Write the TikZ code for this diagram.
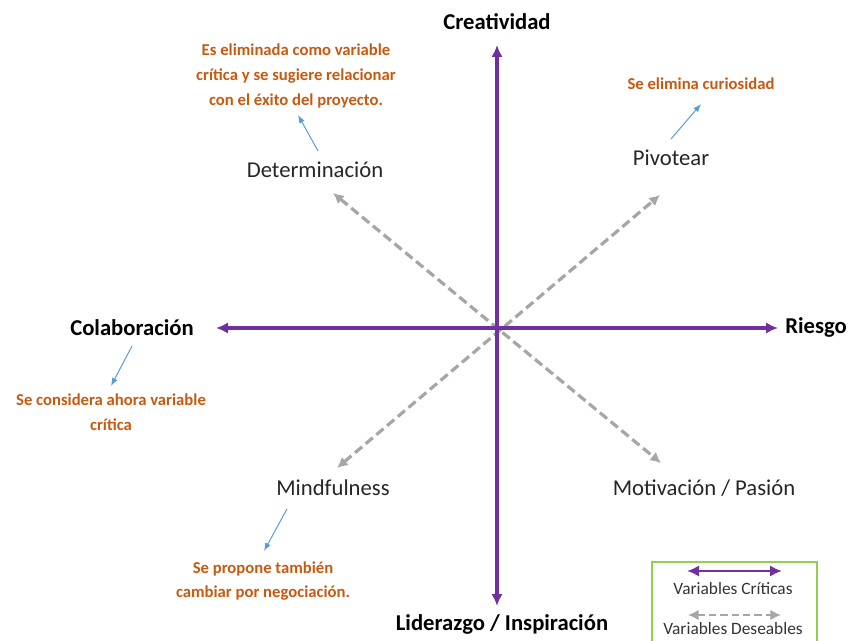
\documentclass[tikz,border=0pt]{standalone}
\usepackage{fontspec}
\setmainfont{Carlito}
\usetikzlibrary{arrows.meta}

\definecolor{critico}{RGB}{112,48,160}
\definecolor{deseable}{RGB}{166,166,166}
\definecolor{nota}{RGB}{197,90,17}
\definecolor{flecha}{RGB}{91,155,213}
\definecolor{marco}{RGB}{146,208,80}

\tikzset{
  critica/.style={draw=critico, line width=2.4pt, {Latex[length=9pt,width=8.5pt]}-{Latex[length=9pt,width=8.5pt]}},
  deseada/.style={draw=deseable, line width=2.4pt, dash pattern=on 7pt off 3.5pt, {Latex[length=8pt,width=8pt]}-{Latex[length=8pt,width=8pt]}},
  eje/.style={inner sep=0.75pt, font=\fontsize{17}{20}\selectfont\bfseries},
  varnodo/.style={inner sep=0.75pt, text=black!85, font=\fontsize{17}{20}\selectfont},
  comentario/.style={inner sep=0.75pt, align=center, text=nota, font=\fontsize{12.5}{18.5}\selectfont\bfseries},
  apunta/.style={draw=flecha, line width=0.75pt, -{Latex[length=6pt,width=4.5pt]}},
  leyenda/.style={inner sep=0.75pt, text=black!80, font=\fontsize{13}{15}\selectfont}
}

\begin{document}
\begin{tikzpicture}[x=0.75pt,y=0.75pt,yscale=-1,xscale=1]
  \useasboundingbox (0,0) rectangle (849,641);

  %Coordinates of the axes
  \coordinate (centro) at (497,328);
  \coordinate (arriba) at (497,45);
  \coordinate (abajo) at (497,606);
  \coordinate (izq) at (216,328);
  \coordinate (der) at (778,328);
  \coordinate (diagNO) at (333,193);
  \coordinate (diagSE) at (661,463);
  \coordinate (diagNE) at (660,195);
  \coordinate (diagSO) at (337,468);

  %Straight Lines (deseables)
  \draw [deseada] (diagNO) -- (diagSE);
  \draw [deseada] (diagSO) -- (diagNE);
  %Straight Lines (criticas)
  \draw [critica] (izq) -- (der);
  \draw [critica] (arriba) -- (abajo);

  % Text Node
  \node [eje] (creatividad) at (497,22) {Creatividad};
  % Text Node
  \node [eje] (liderazgo) at (502,624) {Liderazgo / Inspiración};
  % Text Node
  \node [eje] (colaboracion) at (132,328) {Colaboración};
  % Text Node
  \node [eje] (riesgo) at (816,327) {Riesgo};
  % Text Node
  \node [varnodo] (determinacion) at (315,170) {Determinación};
  % Text Node
  \node [varnodo] (pivotear) at (671,158) {Pivotear};
  % Text Node
  \node [varnodo] (mindfulness) at (333,488) {Mindfulness};
  % Text Node
  \node [varnodo] (motivacion) at (704,488) {Motivación / Pasión};

  % Text Node
  \node [comentario] (notaDet) at (296,76) {Es eliminada como variable\\crítica y se sugiere relacionar\\con el éxito del proyecto.};
  % Text Node
  \node [comentario] (notaPiv) at (701,84) {Se elimina curiosidad};
  % Text Node
  \node [comentario] (notaCol) at (111,412) {Se considera ahora variable\\crítica};
  % Text Node
  \node [comentario] (notaMin) at (263,581) {Se propone también\\cambiar por negociación.};

  %Straight Lines (comentarios)
  \coordinate (desdeDet) at (318,151);
  \coordinate (hastaDet) at (298,115);
  \draw [apunta] (desdeDet) -- (hastaDet);
  \coordinate (desdePiv) at (671,139);
  \coordinate (hastaPiv) at (701,104);
  \draw [apunta] (desdePiv) -- (hastaPiv);
  \coordinate (desdeCol) at (132,346);
  \coordinate (hastaCol) at (111,386);
  \draw [apunta] (desdeCol) -- (hastaCol);
  \coordinate (desdeMin) at (287,509);
  \coordinate (hastaMin) at (264,551);
  \draw [apunta] (desdeMin) -- (hastaMin);

  %Legend
  \draw [draw=marco, line width=0.9pt] (652,650) -- (652,562) -- (817,562) -- (817,650);
  \coordinate (legCi) at (687,571);
  \coordinate (legCd) at (782,571);
  \draw [critica, line width=2pt] (legCi) -- (legCd);
  % Text Node
  \node [leyenda] (legCritica) at (733,589) {Variables Críticas};
  \coordinate (legDi) at (688,615);
  \coordinate (legDd) at (781,615);
  \draw [deseada, line width=2pt, dash pattern=on 5.5pt off 3pt] (legDi) -- (legDd);
  % Text Node
  \node [leyenda] (legDeseable) at (733,629) {Variables Deseables};
\end{tikzpicture}
\end{document}
